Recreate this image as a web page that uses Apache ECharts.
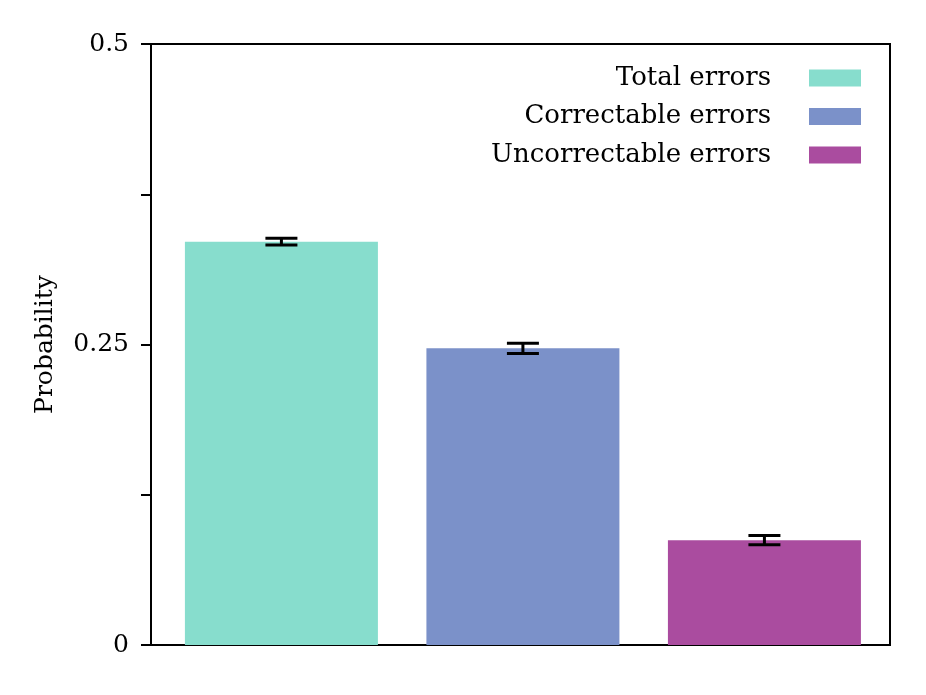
<!DOCTYPE html>
<html><head><meta charset="utf-8">
<script src="https://cdn.jsdelivr.net/npm/echarts@6/dist/echarts.min.js"></script>
<style>html,body{margin:0;padding:0;background:#fff}#c{width:926px;height:695px}</style>
</head><body><div id="c"></div>
<script>
const categories = ['Total errors', 'Correctable errors', 'Uncorrectable errors'];
const values = [0.3355, 0.2468, 0.0872];
const errors = [0.0028, 0.0043, 0.0038];
const colors = ['#87DDCD', '#7B91C9', '#AA4C9F'];
const yTicks = [0, 0.25, 0.5];

const font = 'DejaVu Serif';
const series = categories.map((name, i) => ({
  name: name,
  type: 'bar',
  stack: 'all',
  barWidth: 193,
  itemStyle: { color: colors[i] },
  data: [[i, values[i]]],
  z: 2
}));
series.push({
  type: 'custom',
  z: 5,
  silent: true,
  data: values.map((v, i) => [i, v - errors[i], v + errors[i]]),
  renderItem: function (params, api) {
    const lo = api.coord([api.value(0), api.value(1)]);
    const hi = api.coord([api.value(0), api.value(2)]);
    const hw = 16;
    const st = { stroke: '#000', lineWidth: 3 };
    return { type: 'group', children: [
      { type: 'line', shape: { x1: lo[0], y1: lo[1], x2: hi[0], y2: hi[1] }, style: st },
      { type: 'line', shape: { x1: lo[0] - hw, y1: lo[1], x2: lo[0] + hw, y2: lo[1] }, style: st },
      { type: 'line', shape: { x1: hi[0] - hw, y1: hi[1], x2: hi[0] + hw, y2: hi[1] }, style: st }
    ]};
  }
});

const chart = echarts.init(document.getElementById('c'), null, { renderer: 'canvas' });
chart.setOption({
  animation: false,
  backgroundColor: '#fff',
  grid: { left: 151, right: 36, top: 44, bottom: 50, show: true, borderColor: '#000', borderWidth: 2, backgroundColor: 'transparent' },
  legend: {
    data: categories,
    orient: 'vertical',
    align: 'right',
    right: 60,
    top: 60,
    itemWidth: 52,
    itemHeight: 17,
    itemGap: 12.5,
    icon: 'rect',
    selectedMode: false,
    textStyle: { fontFamily: font, fontSize: 26, color: '#000', padding: [0, 33, 0, 0] }
  },
  xAxis: {
    type: 'value', min: -0.54, max: 2.52,
    axisLine: { show: false }, axisTick: { show: false }, axisLabel: { show: false }, splitLine: { show: false }
  },
  yAxis: {
    type: 'value', min: 0, max: 0.5, interval: 0.125,
    name: 'Probability', nameLocation: 'middle', nameGap: 93,
    nameTextStyle: { fontFamily: font, fontSize: 25, color: '#000' },
    axisLine: { show: true, onZero: false, lineStyle: { color: '#000', width: 2 } },
    axisTick: { show: true, length: 10, lineStyle: { color: '#000', width: 2 } },
    axisLabel: {
      margin: 22, fontFamily: font, fontSize: 25, color: '#000',
      formatter: function (v) {
        const t = yTicks.find(x => Math.abs(x - v) < 1e-9);
        return t === undefined ? '' : String(t);
      }
    },
    splitLine: { show: false }
  },
  series: series
});
</script></body></html>
